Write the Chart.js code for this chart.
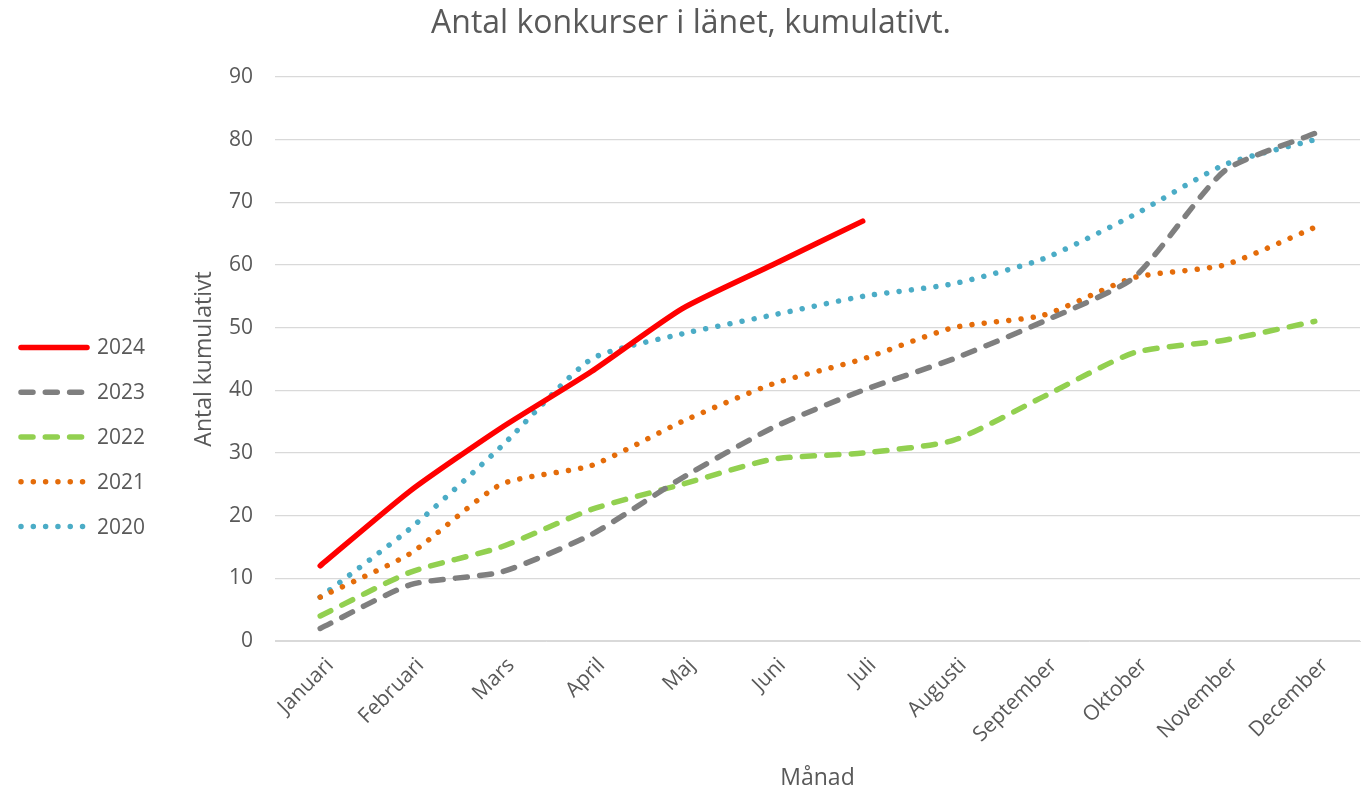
<!DOCTYPE html>
<html><head><meta charset="utf-8">
<script src="https://cdn.jsdelivr.net/npm/chart.js@4/dist/chart.umd.min.js"></script>
<style>html,body{margin:0;padding:0;background:#fff}#wrap{width:1369px;height:790px}</style>
</head><body><div id="wrap"><canvas id="c" width="1369" height="790"></canvas></div>
<script>
const months = ["Januari","Februari","Mars","April","Maj","Juni","Juli","Augusti","September","Oktober","November","December"];
const y2024 = [12,24,34,43,53,60,67];
const y2023 = [2,9,11,17,26,34,40,45,51,58,75,81];
const y2022 = [4,11,15,21,25,29,30,32,39,46,48,51];
const y2021 = [7,14,25,28,35,41,45,50,52,58,60,66];
const y2020 = [7,18,31,45,49,52,55,57,61,68,76,80];
const yTicks = [0,10,20,30,40,50,60,70,80,90];

const FONT = "'Open Sans', sans-serif";
const TXT = '#595959';
const dash = [12,12.3];
const dots = [0.01,12.3];
function ds(label, data, color, w, bd){
  return {label, data, borderColor: color, backgroundColor: color, borderWidth: w,
    borderDash: bd, borderCapStyle: 'round', borderJoinStyle: 'round', pointRadius: 0, pointHoverRadius: 0,
    tension: 0.2, fill: false};
}

// Legend drawn on the left, styled from each dataset
const sideLegend = {
  id: 'sideLegend',
  afterDraw(chart) {
    const ctx = chart.ctx;
    const sets = chart.data.datasets;
    const spacing = 44.8;
    const cy = 437;
    const y0 = cy - spacing * (sets.length - 1) / 2;
    ctx.save();
    sets.forEach((d, i) => {
      const y = y0 + i * spacing;
      ctx.beginPath();
      ctx.strokeStyle = d.borderColor;
      ctx.lineWidth = d.borderWidth;
      ctx.lineCap = 'round';
      ctx.setLineDash(d.borderDash || []);
      ctx.lineDashOffset = 0;
      ctx.moveTo(21, y);
      ctx.lineTo(87, y);
      ctx.stroke();
      ctx.setLineDash([]);
      ctx.fillStyle = TXT;
      ctx.font = "21px " + FONT;
      ctx.textAlign = 'left';
      ctx.textBaseline = 'middle';
      ctx.fillText(d.label, 97, y + 1);
    });
    ctx.restore();
  }
};

new Chart(document.getElementById('c'), {
  type: 'line',
  data: {
    labels: months,
    datasets: [
      ds('2024', y2024, '#FF0000', 5.5, []),
      ds('2023', y2023, '#7F7F7F', 5.5, dash),
      ds('2022', y2022, '#92D050', 5.5, dash),
      ds('2021', y2021, '#E46C0A', 5.5, dots),
      ds('2020', y2020, '#4BACC6', 5.5, dots)
    ]
  },
  plugins: [sideLegend],
  options: {
    responsive: false, animation: false,
    layout: {padding: {left: 22, right: 9, top: 0, bottom: 0}},
    plugins: {
      title: {display: true, text: 'Antal konkurser i länet, kumulativt.', color: TXT,
        font: {family: FONT, size: 32, weight: 'normal'}, padding: {top: 5, bottom: 33.6}},
      legend: {display: false},
      tooltip: {enabled: false}
    },
    scales: {
      x: {offset: true,
        grid: {display: false, drawTicks: false},
        border: {display: true, color: '#D9D9D9'},
        ticks: {color: TXT, font: {family: FONT, size: 21}, minRotation: 45, maxRotation: 45, padding: 12, labelOffset: 10},
        title: {display: true, text: 'Månad', color: TXT, font: {family: FONT, size: 23, lineHeight: 1.0}, padding: {top: 4, bottom: 0}},
        afterFit: s => { s.height = 149; }
      },
      y: {min: 0, max: 90,
        afterBuildTicks: s => { s.ticks = yTicks.map(v => ({value: v})); },
        grid: {color: '#D9D9D9', lineWidth: 1.3, drawTicks: false},
        border: {display: false},
        ticks: {color: TXT, font: {family: FONT, size: 21}, padding: 22},
        title: {display: true, text: 'Antal kumulativt', color: TXT, font: {family: FONT, size: 23}, padding: {top: 169, bottom: 10}},
        afterFit: s => { s.width = 253; }
      }
    }
  }
});
</script></body></html>
